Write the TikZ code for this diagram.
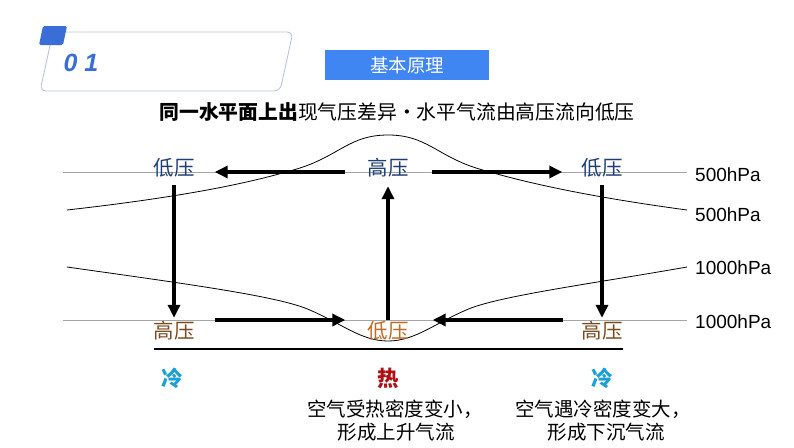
\documentclass[tikz,border=0pt]{standalone}
\usepackage{fontspec}
\setmainfont{Noto Sans CJK SC}
\newfontfamily\latinfont{Liberation Sans}
\usetikzlibrary{arrows.meta, positioning}
\definecolor{hdrblue}{HTML}{3F86F2}
\definecolor{numblue}{HTML}{3A6ED6}
\definecolor{framegray}{HTML}{B9C3DE}
\definecolor{upperblue}{HTML}{1F3E78}
\definecolor{lowerbrown}{HTML}{7A4A1E}
\definecolor{warmorange}{HTML}{C46A22}
\definecolor{coldcyan}{HTML}{1A9FD6}
\definecolor{hotred}{HTML}{B01015}
\tikzstyle{flow} = [line width=3.6pt, -{Triangle[length=13pt,width=12pt]}]

\begin{document}
\begin{tikzpicture}[
				x=1pt, y=-1pt,
				level/.style={draw=gray!70, line width=0.9pt},
				isobar/.style={draw=black, line width=0.8pt},
				press/.style={font=\fontsize{20.5}{24}\selectfont, inner sep=0pt, text height=15pt, text depth=3pt},
				hpa/.style={font=\latinfont\fontsize{19}{22}\selectfont, anchor=west, inner sep=0pt},
				temp/.style={font=\bfseries\fontsize{21.5}{25}\selectfont, inner sep=0pt},
				note/.style={font=\fontsize{19.5}{23}\selectfont, inner sep=0pt}
				]
				\useasboundingbox (0,0) rectangle (794,447);
				
				% header
				\draw[framegray, line width=0.9pt, rounded corners=6pt] (40,91) -- (53,32) -- (293,32) -- (280,91) -- cycle;
				\fill[numblue, rounded corners=1.5pt] (39,45) -- (43,26) -- (67,26) -- (63,45) -- cycle;
				\node (num) at (81,63) [font=\latinfont\bfseries\itshape\fontsize{25}{28}\selectfont, text=numblue] {0 1};
				\node (topic) at (407,65) [fill=hdrblue, minimum width=164pt, minimum height=30pt, inner sep=0pt, text=white, font=\fontsize{18.5}{22}\selectfont] {基本原理};
				\node (rule) at (397,112) [font=\fontsize{19.8}{23}\selectfont, inner sep=0pt] {\textbf{同一水平面上出}现气压差异·水平气流由高压流向低压};
				
				% levels and isobars
				\draw[level] (63,172) -- (687,172);
				\draw[level] (63,320) -- (687,320);
				\draw[isobar] (67,210) .. controls (200,195) and (260,180) .. (300,168)
					.. controls (340,155) and (350,135) .. (388,135)
					.. controls (426,135) and (436,155) .. (476,168)
					.. controls (516,180) and (576,195) .. (687,210);
				\draw[isobar] (67,267) .. controls (180,283) and (270,295) .. (305,308)
					.. controls (340,322) and (360,341) .. (388,341)
					.. controls (416,341) and (436,322) .. (471,308)
					.. controls (506,295) and (596,283) .. (687,267);
				\draw[black, line width=1.4pt] (154,349) -- (623,349);
				
				\node (p1) at (695,175) [hpa] {500hPa};
				\node (p2) at (695,215) [hpa] {500hPa};
				\node (p3) at (695,268) [hpa] {1000hPa};
				\node (p4) at (695,322) [hpa] {1000hPa};
				
				% pressure centres
				\node (lotl) at (174,169) [press, text=upperblue] {低压};
				\node (hitc) at (388,169) [press, text=upperblue] {高压};
				\node (lotr) at (602,169) [press, text=upperblue] {低压};
				\node (hibl) at (174,332) [press, text=lowerbrown] {高压};
				\node (lobc) at (388,332) [press, text=warmorange] {低压};
				\node (hibr) at (602,332) [press, text=lowerbrown] {高压};
				
				\draw[flow] ([shift={(-22pt,-3pt)}]hitc.west) -- ([shift={(20pt,-3pt)}]lotl.east);
				\draw[flow] ([shift={(23pt,-3pt)}]hitc.east) -- ([shift={(-19pt,-3pt)}]lotr.west);
				\draw[flow] ([yshift=-7pt]lotl.south) -- ([yshift=5pt]hibl.north);
				\draw[flow] ([yshift=-7pt]lotr.south) -- ([yshift=5pt]hibr.north);
				\draw[flow] ([yshift=3pt]lobc.north) -- ([yshift=-8pt]hitc.south);
				\draw[flow] ([shift={(20pt,12pt)}]hibl.east) -- ([shift={(-22pt,12pt)}]lobc.west);
				\draw[flow] ([shift={(-18pt,12pt)}]hibr.west) -- ([shift={(24pt,12pt)}]lobc.east);
				
				% temperature
				\node (cold1) at (172,378) [temp, text=coldcyan] {冷};
				\node (hot) at (388,378) [temp, text=hotred] {热};
				\node (cold2) at (602,378) [temp, text=coldcyan] {冷};
				\node (rise1) at (395,409) [note] {空气受热密度变小，};
				\node (rise2) at (396,432) [note] {形成上升气流};
				\node (sink1) at (603,409) [note] {空气遇冷密度变大，};
				\node (sink2) at (606,432) [note] {形成下沉气流};
			\end{tikzpicture}
\end{document}
